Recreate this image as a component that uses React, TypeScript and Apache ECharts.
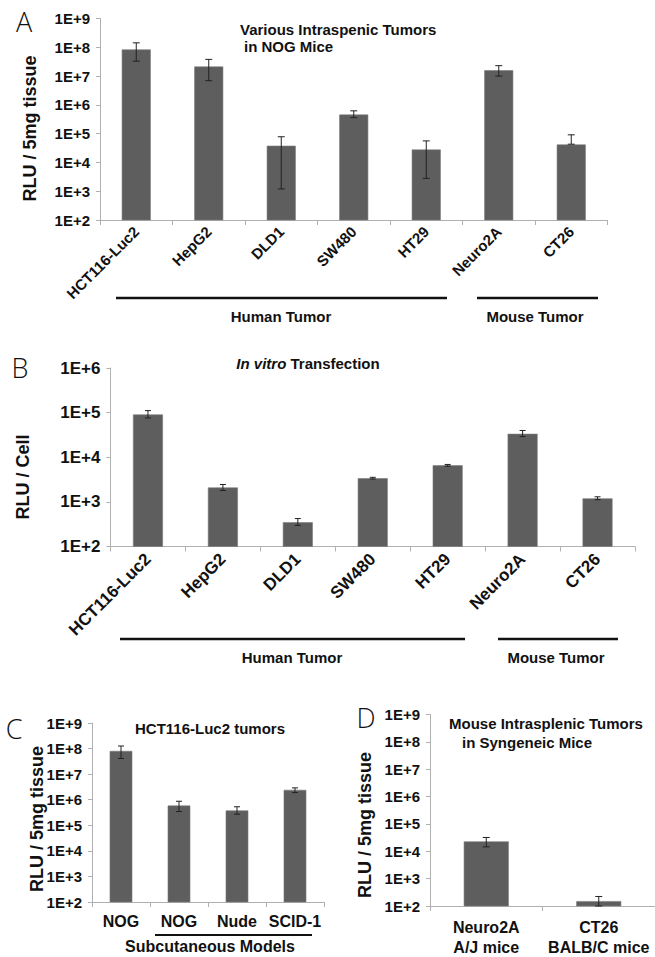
import React, { useEffect, useRef } from "react";
import * as echarts from "echarts";

// ---------- Data ----------
const catA = ["HCT116-Luc2", "HepG2", "DLD1", "SW480", "HT29", "Neuro2A", "CT26"];
const valA = [8.4e7, 2.15e7, 3.8e4, 4.6e5, 2.8e4, 1.6e7, 4.2e4];
const hiA = [1.43e8, 3.8e7, 7.8e4, 6.2e5, 5.6e4, 2.3e7, 9.1e4];
const loA = [3.3e7, 6.9e6, 1.2e3, 3.6e5, 2.8e3, 1.0e7, 4.3e4];

const catB = ["HCT116-Luc2", "HepG2", "DLD1", "SW480", "HT29", "Neuro2A", "CT26"];
const valB = [9.1e4, 2.1e3, 350, 3.4e3, 6.6e3, 3.35e4, 1.2e3];
const hiB = [1.11e5, 2.45e3, 423, 3.55e3, 6.9e3, 3.98e4, 1.3e3];
const loB = [7.6e4, 1.8e3, 297, 3.25e3, 6.3e3, 2.9e4, 1.12e3];

const catC = ["NOG", "NOG", "Nude", "SCID-1"];
const valC = [8.1e7, 5.9e5, 3.8e5, 2.43e6];
const hiC = [1.26e8, 8.7e5, 5.3e5, 2.9e6];
const loC = [4.1e7, 3.45e5, 2.7e5, 1.9e6];

const catD = ["Neuro2A\nA/J mice", "CT26\nBALB/C mice"];
const valD = [2.3e4, 151];
const hiD = [3.2e4, 223];
const loD = [1.45e4, 100];

const minA = 1e2, maxA = 1e9;
const minB = 1e2, maxB = 1e6;

const FONT = '"Liberation Sans", Arial, Helvetica, sans-serif';
const LETTER_FONT = '"Open Sans", "DejaVu Sans", sans-serif';
const BAR = "#5e5e5e";
const AXIS = "#b0b0b0";
const TXT = "#111";

const expFmt = (v: number) => "1E+" + Math.round(Math.log10(v));

function yAxisCfg(idx: number, min: number, max: number, size: number) {
  return {
    type: "log",
    gridIndex: idx,
    logBase: 10,
    min,
    max,
    axisLine: { show: true, lineStyle: { color: AXIS, width: 1 } },
    axisTick: { show: true, length: 4, lineStyle: { color: AXIS } },
    splitLine: { show: false },
    axisLabel: {
      formatter: expFmt,
      fontFamily: FONT,
      fontWeight: "bold",
      fontSize: size,
      color: TXT,
      margin: 10,
    },
  };
}

function xAxisCfg(idx: number, data: string[], label: any) {
  return {
    type: "category",
    gridIndex: idx,
    data,
    axisLine: { show: true, lineStyle: { color: AXIS, width: 1 } },
    axisTick: { show: true, length: 5, lineStyle: { color: AXIS } },
    axisLabel: Object.assign(
      { fontFamily: FONT, fontWeight: "bold", color: TXT, interval: 0 },
      label
    ),
  };
}

function barSeries(idx: number, data: number[], width: string) {
  return {
    type: "bar",
    xAxisIndex: idx,
    yAxisIndex: idx,
    data,
    barWidth: width,
    clip: true,
    itemStyle: { color: BAR, borderColor: "#7a7a7a", borderWidth: 0.6 },
    z: 2,
  };
}

function errSeries(idx: number, lo: number[], hi: number[], cap: number) {
  return {
    type: "custom",
    xAxisIndex: idx,
    yAxisIndex: idx,
    z: 3,
    encode: { x: 0, y: [1, 2] },
    data: lo.map((l, i) => [i, l, hi[i]]),
    renderItem: (params: any, api: any) => {
      const x = api.value(0);
      const a = api.coord([x, api.value(1)]);
      const b = api.coord([x, api.value(2)]);
      const st = { stroke: "#222", lineWidth: 1 };
      return {
        type: "group",
        children: [
          { type: "line", shape: { x1: a[0], y1: a[1], x2: b[0], y2: b[1] }, style: st },
          { type: "line", shape: { x1: a[0] - cap, y1: a[1], x2: a[0] + cap, y2: a[1] }, style: st },
          { type: "line", shape: { x1: b[0] - cap, y1: b[1], x2: b[0] + cap, y2: b[1] }, style: st },
        ],
      };
    },
  };
}

function txt(x: number, y: number, text: string, size: number, opts: any = {}) {
  return {
    type: "text",
    x,
    y,
    rotation: opts.rotation || 0,
    style: {
      text,
      fontFamily: opts.family || FONT,
      fontWeight: opts.weight || "bold",
      fontSize: size,
      fill: TXT,
      align: opts.align || "center",
      verticalAlign: "middle",
      rich: opts.rich,
    },
  };
}

function hline(x1: number, x2: number, y: number, w = 2.5) {
  return {
    type: "line",
    shape: { x1, y1: y, x2, y2: y },
    style: { stroke: "#111", lineWidth: w },
  };
}

export default function App() {
  const ref = useRef<HTMLDivElement>(null);

  useEffect(() => {
    if (!ref.current) return;
    const chart = echarts.init(ref.current, null, { renderer: "svg" });

    const letter = (x: number, y: number, t: string) =>
      txt(x, y, t, 27, { family: LETTER_FONT, weight: 300 });

    const option: any = {
      animation: false,
      backgroundColor: "#fff",
      grid: [
        { left: 100, top: 18.5, width: 507.5, height: 201.5 },
        { left: 110.5, top: 368, width: 524.5, height: 178.5 },
        { left: 92, top: 723, width: 232, height: 179 },
        { left: 430, top: 714.5, width: 231.5, height: 192 },
      ],
      xAxis: [
        xAxisCfg(0, catA, { rotate: 45, fontSize: 15, margin: 9 }),
        xAxisCfg(1, catB, { rotate: 45, fontSize: 17, margin: 10 }),
        xAxisCfg(2, catC, { fontSize: 16, margin: 11 }),
        xAxisCfg(3, catD, { fontSize: 16, margin: 11, lineHeight: 20 }),
      ],
      yAxis: [
        yAxisCfg(0, minA, maxA, 15),
        yAxisCfg(1, minB, maxB, 17),
        yAxisCfg(2, minA, maxA, 15),
        yAxisCfg(3, minA, maxA, 15),
      ],
      series: [
        barSeries(0, valA, "40%"),
        errSeries(0, loA, hiA, 3.5),
        barSeries(1, valB, "40%"),
        errSeries(1, loB, hiB, 3),
        barSeries(2, valC, "39%"),
        errSeries(2, loC, hiC, 3),
        barSeries(3, valD, "40%"),
        errSeries(3, loD, hiD, 3.5),
      ],
      graphic: {
        elements: [
          // Panel letters
          letter(24, 21, "A"),
          letter(20, 367, "B"),
          letter(14, 728, "C"),
          letter(366, 717, "D"),
          // Y-axis titles
          txt(30, 128.5, "RLU / 5mg tissue", 18, { rotation: Math.PI / 2 }),
          txt(23, 477, "RLU / Cell", 18, { rotation: Math.PI / 2 }),
          txt(37, 819, "RLU / 5mg tissue", 18, { rotation: Math.PI / 2 }),
          txt(365, 825, "RLU / 5mg tissue", 18, { rotation: Math.PI / 2 }),
          // Panel titles
          txt(240, 29, "Various Intraspenic Tumors", 15, { align: "left" }),
          txt(244, 46.5, "in NOG Mice", 15, { align: "left" }),
          txt(308, 363.5, "{i|In vitro} Transfection", 15, {
            rich: { i: { fontStyle: "italic", fontWeight: "bold", fontSize: 15, fontFamily: FONT, fill: TXT } },
          }),
          txt(210, 728.5, "HCT116-Luc2 tumors", 15),
          txt(449, 723.5, "Mouse Intrasplenic Tumors", 15, { align: "left" }),
          txt(462, 742, "in Syngeneic Mice", 15, { align: "left" }),
          // Group lines A
          hline(116, 447, 298),
          hline(477, 598, 298),
          txt(281, 316, "Human Tumor", 15),
          txt(535, 316, "Mouse Tumor", 15),
          // Group lines B
          hline(120, 465, 639),
          hline(498, 618, 639),
          txt(292, 657.5, "Human Tumor", 15),
          txt(556, 657, "Mouse Tumor", 15),
          // C
          hline(155, 312, 935, 2),
          txt(210, 946.5, "Subcutaneous Models", 16),
        ],
      },
    };

    chart.setOption(option);
    return () => chart.dispose();
  }, []);

  return (
    <div
      ref={ref}
      style={{ position: "absolute", left: 0, top: 0, width: 655, height: 957, background: "#fff" }}
    />
  );
}
